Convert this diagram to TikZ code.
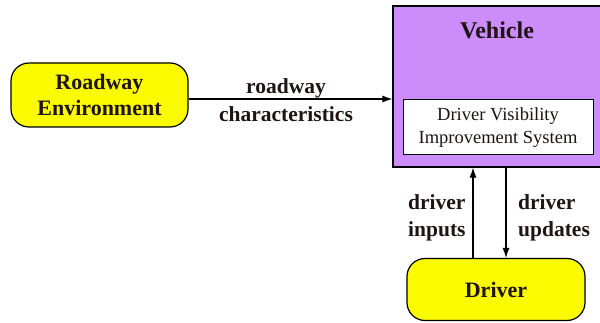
\documentclass[tikz,border=0pt]{standalone}
\usepackage{fontspec}
\setmainfont{Liberation Serif}
\usetikzlibrary{arrows.meta}
\definecolor{boxyellow}{RGB}{250,250,0}
\definecolor{vehpurple}{RGB}{204,140,250}
\definecolor{txt}{RGB}{30,20,20}
\tikzset{
  term/.style={draw=black, line width=1.2pt, fill=boxyellow, rounded corners=18pt,
    align=center, font=\fontsize{22}{26}\selectfont\bfseries, text=txt, inner sep=0pt},
  lbl/.style={font=\fontsize{21.5}{27}\selectfont\bfseries, text=txt, inner sep=0pt},
  flow/.style={line width=1.1pt, -{Latex[length=10pt,width=7pt]}}
}
\begin{document}
\begin{tikzpicture}[x=1pt,y=-1pt]
\useasboundingbox (0,0) rectangle (600,323);
\node[term, minimum width=177pt, minimum height=64pt] (road) at (99.5,95) {Roadway\\Environment};
\node[draw=black, line width=1.2pt, fill=vehpurple, minimum width=216pt, minimum height=161pt, inner sep=0pt] (veh) at (501,86.5) {};
\node[font=\fontsize{24}{28}\selectfont\bfseries, text=txt, inner sep=0pt] (vtitle) at (497,30) {Vehicle};
\node[draw=black, line width=1pt, fill=white, minimum width=190pt, minimum height=55pt, inner sep=0pt, align=center, font=\fontsize{18.5}{23}\selectfont, text=txt] (dvis) at (498,127.5) {Driver Visibility\\Improvement System};
\node[term, minimum width=178pt, minimum height=62pt] (driver) at (496,289.5) {Driver};
\draw[flow] ([yshift=-4pt]road.east) -- ([yshift=-4pt]road.east -| veh.west);
\node[lbl] (l1) at (286,88) {roadway};
\node[lbl] (l2) at (286,114) {characteristics};
\draw[flow] ([xshift=-23pt]driver.north) -- ([xshift=-23pt]driver.north |- veh.south);
\draw[flow] ([xshift=10pt]driver.north |- veh.south) -- ([xshift=10pt]driver.north);
\node[lbl, align=left, anchor=west] (l3) at (408,218) {driver\\inputs};
\node[lbl, align=left, anchor=west] (l4) at (518,218) {driver\\updates};
\end{tikzpicture}
\end{document}
